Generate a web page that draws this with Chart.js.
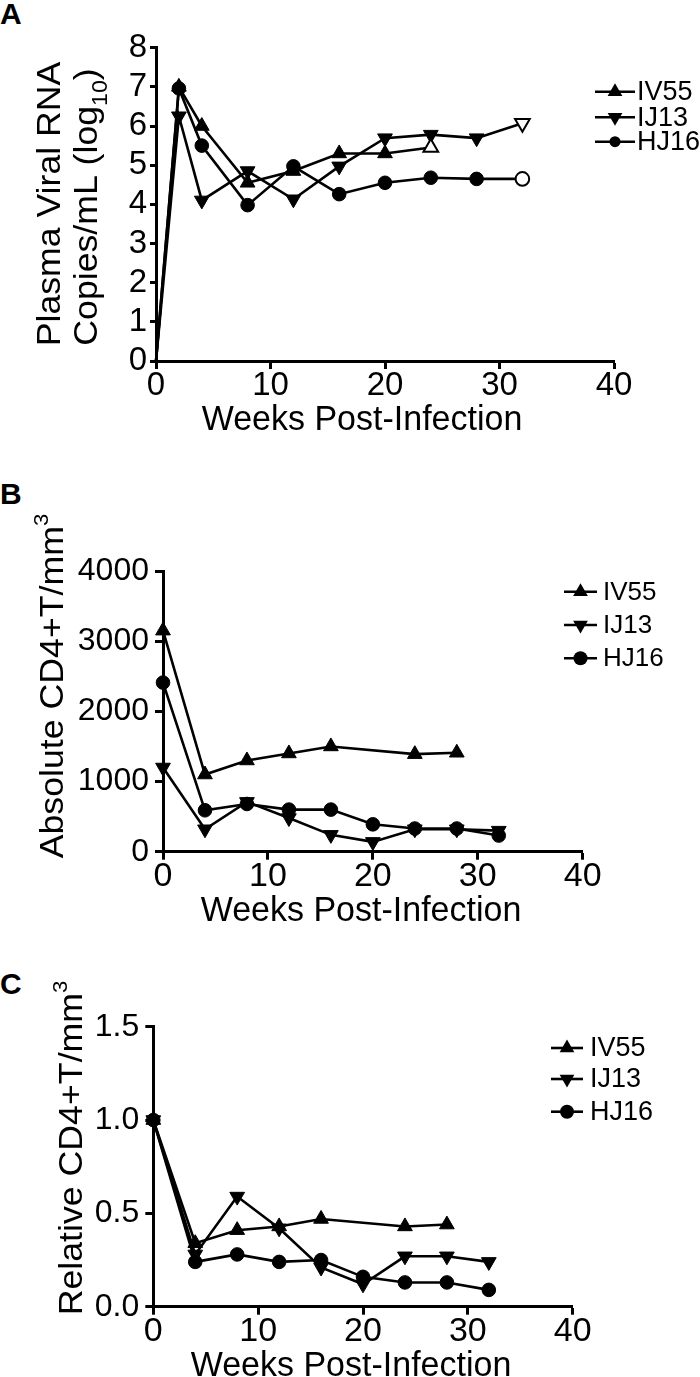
<!DOCTYPE html>
<html><head><meta charset="utf-8">
<script src="https://cdn.jsdelivr.net/npm/chart.js@4.4.0/dist/chart.umd.min.js"></script>
<style>
html,body{margin:0;padding:0;background:#fff;}
body{width:700px;height:1377px;position:relative;overflow:hidden;font-family:"Liberation Sans",Arial,Helvetica,sans-serif;}
.wrap{position:absolute;left:0;width:700px;}
.wrap canvas{display:block;}
.letter{position:absolute;left:0;font-weight:bold;font-size:30px;line-height:1;color:#000;}
</style></head><body>
<div class="letter" style="top:-1px">A</div>
<div class="letter" style="top:479px">B</div>
<div class="letter" style="top:969px">C</div>
<div class="wrap" style="top:0px"><canvas id="cA" width="700" height="450"></canvas></div>
<div class="wrap" style="top:450px"><canvas id="cB" width="700" height="480"></canvas></div>
<div class="wrap" style="top:930px"><canvas id="cC" width="700" height="447"></canvas></div>
<script>
// ---------- DATA ----------
const seriesNames = ['IV55', 'IJ13', 'HJ16'];
const xTickLabels = ['0', '10', '20', '30', '40'];

// Panel A: plasma viral RNA (log10 copies/mL)
const weeksA_IV55 = [0, 2, 4, 8, 12, 16, 20, 24];
const rnaIV55     = [0, 7.0, 6.0, 4.55, 4.85, 5.3, 5.3, 5.45];
const weeksA_IJ13 = [0, 2, 4, 8, 12, 16, 20, 24, 28, 32];
const rnaIJ13     = [0, 6.25, 4.1, 4.85, 4.13, 4.97, 5.69, 5.78, 5.69, 6.07];
const weeksA_HJ16 = [0, 2, 4, 8, 12, 16, 20, 24, 28, 32];
const rnaHJ16     = [0, 6.96, 5.5, 3.98, 4.97, 4.26, 4.55, 4.68, 4.65, 4.65];
const yTickLabelsA = ['0', '1', '2', '3', '4', '5', '6', '7', '8'];

// Panel B: absolute CD4+ T cells / mm3
const weeksB_IV55 = [0, 4, 8, 12, 16, 24, 28];
const cd4IV55     = [3150, 1100, 1300, 1400, 1500, 1390, 1410];
const weeksB_IJ13 = [0, 4, 8, 12, 16, 20, 24, 28, 32];
const cd4IJ13     = [1200, 320, 710, 480, 240, 140, 320, 320, 300];
const weeksB_HJ16 = [0, 4, 8, 12, 16, 20, 24, 28, 32];
const cd4HJ16     = [2410, 590, 680, 600, 600, 390, 330, 330, 230];
const yTickLabelsB = ['0', '1000', '2000', '3000', '4000'];

// Panel C: relative CD4+ T cells / mm3
const weeksC_IV55 = [0, 4, 8, 12, 16, 24, 28];
const relIV55     = [1.0, 0.34, 0.41, 0.43, 0.47, 0.43, 0.44];
const weeksC_IJ13 = [0, 4, 8, 12, 16, 20, 24, 28, 32];
const relIJ13     = [1.0, 0.28, 0.59, 0.42, 0.21, 0.12, 0.27, 0.27, 0.24];
const weeksC_HJ16 = [0, 4, 8, 12, 16, 20, 24, 28, 32];
const relHJ16     = [1.0, 0.24, 0.28, 0.24, 0.25, 0.16, 0.13, 0.13, 0.09];
const yTickLabelsC = ['0.0', '0.5', '1.0', '1.5'];

// ---------- STYLE ----------
const FONT = '"Liberation Sans", Arial, Helvetica, sans-serif';
const MARK = {
  IV55: {style: 'triangle', rot: 0, r: 8.5},
  IJ13: {style: 'triangle', rot: 180, r: 8.5},
  HJ16: {style: 'circle', rot: 0, r: 6.8}
};

function makeDataset(name, xs, ys, opts) {
  opts = opts || {};
  const m = MARK[name];
  const n = xs.length;
  const radius = xs.map((_, i) => (opts.hideFirst && i === 0) ? 0 : m.r);
  const bg = xs.map((_, i) => (opts.openLast && i === n - 1) ? '#fff' : '#000');
  const bw = xs.map((_, i) => (opts.openLast && i === n - 1) ? 2 : 1);
  return {
    label: name,
    data: xs.map((x, i) => ({x: x, y: ys[i]})),
    borderColor: '#000',
    borderWidth: 2.6,
    tension: 0,
    pointStyle: m.style,
    pointRotation: m.rot,
    pointRadius: radius,
    pointHoverRadius: radius,
    pointBackgroundColor: bg,
    pointBorderColor: '#000',
    pointBorderWidth: bw,
    clip: false
  };
}

function drawMarker(ctx, name, x, y, r) {
  const m = MARK[name];
  ctx.save();
  ctx.fillStyle = '#000';
  ctx.beginPath();
  if (m.style === 'circle') {
    ctx.arc(x, y, r, 0, Math.PI * 2);
  } else {
    const s = m.rot === 180 ? -1 : 1;
    const h = r * 1.5, w = r * Math.sqrt(3);
    ctx.moveTo(x, y - s * r);
    ctx.lineTo(x + w / 2, y - s * r + s * h);
    ctx.lineTo(x - w / 2, y - s * r + s * h);
    ctx.closePath();
  }
  ctx.fill();
  ctx.restore();
}

// draw rich text (segments with sub/superscript), centered at 0 on baseline 0
function drawSegments(ctx, segs, size) {
  let total = 0;
  const widths = segs.map(sg => {
    ctx.font = (size * (sg.scale || 1)) + 'px ' + FONT;
    const w = ctx.measureText(sg.text).width;
    total += w;
    return w;
  });
  let x = -total / 2;
  ctx.textAlign = 'left';
  ctx.textBaseline = 'alphabetic';
  segs.forEach((sg, i) => {
    ctx.font = (size * (sg.scale || 1)) + 'px ' + FONT;
    ctx.fillText(sg.text, x, (sg.dy || 0) * size);
    x += widths[i];
  });
}

function textPlugin(spec, top) {
  return {
    id: 'panelText',
    afterDraw(chart) {
      const ctx = chart.ctx;
      ctx.save();
      ctx.fillStyle = '#000';
      // y titles (rotated)
      spec.yTitles.forEach(t => {
        ctx.save();
        ctx.translate(t.bx, t.cy - top);
        ctx.rotate(-Math.PI / 2);
        ctx.scale(t.sx || 1, 1);
        drawSegments(ctx, t.segs, t.size);
        ctx.restore();
      });
      // x title
      const xt = spec.xTitle;
      ctx.save();
      ctx.translate(xt.cx, xt.by - top);
      ctx.scale(1, xt.sy || 1);
      drawSegments(ctx, [{text: xt.text}], xt.size);
      ctx.restore();
      // legend
      const lg = spec.legend;
      seriesNames.forEach((name, i) => {
        const y = lg.rows[i] - top;
        ctx.save();
        ctx.strokeStyle = '#000';
        ctx.lineWidth = 2.6;
        ctx.beginPath();
        ctx.moveTo(lg.x0, y);
        ctx.lineTo(lg.x1, y);
        ctx.stroke();
        drawMarker(ctx, name, (lg.x0 + lg.x1) / 2, y + (MARK[name].style === 'triangle' ? (MARK[name].rot ? -1 : 1) * 0 : 0), lg.r[name]);
        ctx.font = lg.size + 'px ' + FONT;
        ctx.textAlign = 'left';
        ctx.textBaseline = 'middle';
        ctx.fillText(name, lg.tx, y + 1);
        ctx.restore();
      });
      ctx.restore();
    }
  };
}

function makePanel(id, top, height, area, yCfg, datasets, spec) {
  const ctx = document.getElementById(id);
  return new Chart(ctx, {
    type: 'line',
    data: {datasets: datasets},
    options: {
      responsive: false,
      animation: false,
      devicePixelRatio: 1,
      events: [],
      layout: {padding: {left: 0, top: area.T - top, right: 700 - area.R, bottom: 0}},
      plugins: {legend: {display: false}, tooltip: {enabled: false}, title: {display: false}},
      scales: {
        x: {
          type: 'linear', min: 0, max: 40,
          afterFit: s => { s.height = top + height - area.B; },
          ticks: {stepSize: 10, autoSkip: false, maxRotation: 0, padding: 0, color: '#000',
                  font: {family: FONT, size: spec.xTickSize, lineHeight: 1},
                  callback: (v, i) => xTickLabels[i]},
          grid: {display: true, drawOnChartArea: false, drawTicks: true, tickLength: 8, tickWidth: 3, tickColor: '#000'},
          border: {display: true, color: '#000', width: 3}
        },
        y: {
          type: 'linear', min: yCfg.min, max: yCfg.max,
          afterFit: s => { s.width = area.L; },
          ticks: {stepSize: yCfg.step, autoSkip: false, padding: yCfg.pad, color: '#000',
                  font: {family: FONT, size: spec.yTickSize, lineHeight: 1},
                  callback: (v, i) => yCfg.labels[i]},
          grid: {display: true, drawOnChartArea: false, drawTicks: true, tickLength: yCfg.tick, tickWidth: 3, tickColor: '#000'},
          border: {display: true, color: '#000', width: 3}
        }
      }
    },
    plugins: [textPlugin(spec, top)]
  });
}

// Panel A
makePanel('cA', 0, 450, {L: 156, R: 614, T: 47.7, B: 361},
  {min: 0, max: 8, step: 1, labels: yTickLabelsA, pad: 3, tick: 6},
  [
    makeDataset('IV55', weeksA_IV55, rnaIV55, {hideFirst: true, openLast: true}),
    makeDataset('IJ13', weeksA_IJ13, rnaIJ13, {hideFirst: true, openLast: true}),
    makeDataset('HJ16', weeksA_HJ16, rnaHJ16, {hideFirst: true, openLast: true})
  ],
  {
    xTickSize: 33, yTickSize: 33,
    yTitles: [
      {bx: 60, cy: 204, size: 33, sx: 1.08, segs: [{text: 'Plasma Viral RNA'}]},
      {bx: 97, cy: 207, size: 33, sx: 1.08, segs: [{text: 'Copies/mL (log'}, {text: '10', scale: 0.65, dy: 0.3}, {text: ')'}]}
    ],
    xTitle: {text: 'Weeks Post-Infection', cx: 362, by: 430, size: 34, sy: 1.05},
    legend: {rows: [91.7, 117.3, 141.7], x0: 595, x1: 635, tx: 637, size: 27, r: {IV55: 8.5, IJ13: 8.5, HJ16: 5.5}}
  });

// Panel B
makePanel('cB', 450, 480, {L: 163, R: 582.7, T: 571, B: 851.7},
  {min: 0, max: 4000, step: 1000, labels: yTickLabelsB, pad: 6, tick: 8},
  [
    makeDataset('IV55', weeksB_IV55, cd4IV55),
    makeDataset('IJ13', weeksB_IJ13, cd4IJ13),
    makeDataset('HJ16', weeksB_HJ16, cd4HJ16)
  ],
  {
    xTickSize: 34, yTickSize: 32,
    yTitles: [
      {bx: 63, cy: 686, size: 34, sx: 1.05, segs: [{text: 'Absolute CD4+T/mm'}, {text: '3', scale: 0.62, dy: -0.45}]}
    ],
    xTitle: {text: 'Weeks Post-Infection', cx: 361, by: 921, size: 34, sy: 1.05},
    legend: {rows: [591.7, 625, 658.3], x0: 564, x1: 597, tx: 603, size: 26, r: {IV55: 8.5, IJ13: 8.5, HJ16: 7}}
  });

// Panel C
makePanel('cC', 930, 447, {L: 153.3, R: 572.7, T: 1026.7, B: 1306.7},
  {min: 0, max: 1.5, step: 0.5, labels: yTickLabelsC, pad: 6, tick: 8},
  [
    makeDataset('IV55', weeksC_IV55, relIV55),
    makeDataset('IJ13', weeksC_IJ13, relIJ13),
    makeDataset('HJ16', weeksC_HJ16, relHJ16)
  ],
  {
    xTickSize: 34, yTickSize: 32,
    yTitles: [
      {bx: 82, cy: 1148, size: 34, sx: 1.05, segs: [{text: 'Relative CD4+T/mm'}, {text: '3', scale: 0.62, dy: -0.45}]}
    ],
    xTitle: {text: 'Weeks Post-Infection', cx: 351, by: 1376, size: 34, sy: 1.05},
    legend: {rows: [1048, 1079, 1111.7], x0: 551, x1: 583, tx: 590, size: 27, r: {IV55: 8.5, IJ13: 8.5, HJ16: 7}}
  });
</script>
</body></html>
